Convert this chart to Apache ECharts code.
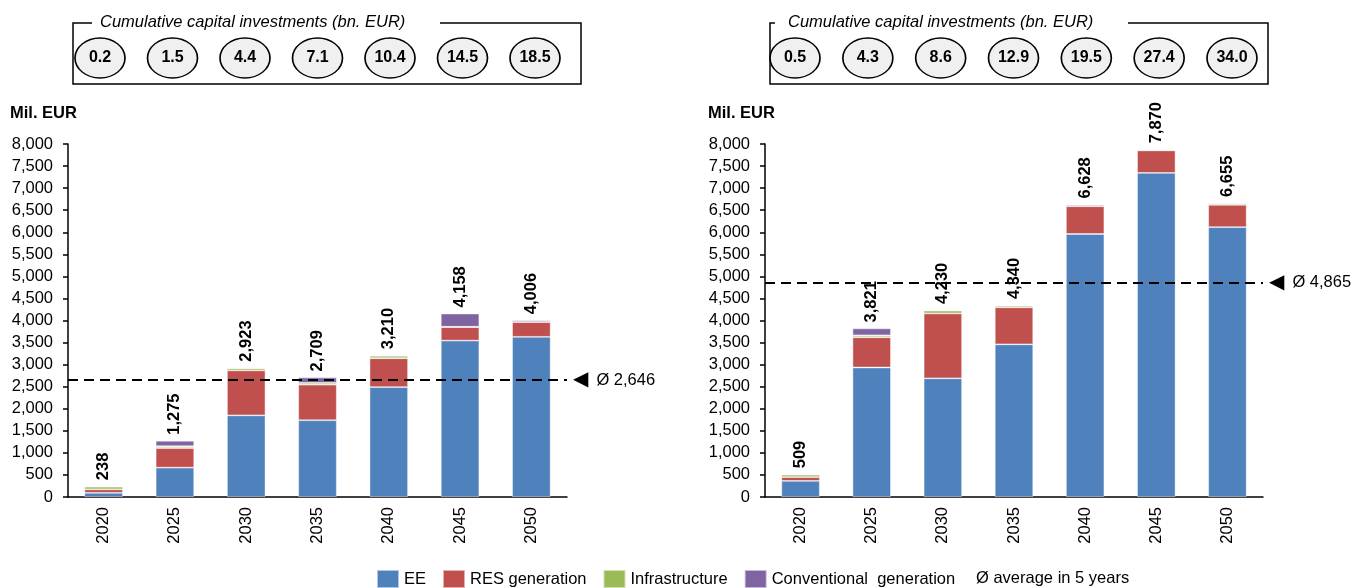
<!DOCTYPE html>
<html><head><meta charset="utf-8">
<script src="https://cdn.jsdelivr.net/npm/echarts@6/dist/echarts.min.js"></script>
<style>html,body{margin:0;padding:0;background:#fff}#c{width:1354px;height:588px}</style>
</head><body><div id="c"></div>
<script>
// ---- data ----
const years = ['2020','2025','2030','2035','2040','2045','2050'];
// left panel
const eeL   = [95, 665, 1850, 1740, 2490, 3545, 3630];
const resL  = [80, 445, 1020, 805, 655, 305, 335];
const infL  = [58, 40, 48, 40, 55, 8, 6];
const convL = [5, 125, 5, 124, 10, 300, 35];
const totL  = [238, 1275, 2923, 2709, 3210, 4158, 4006];
const avgL  = 2646;
const cumL  = [0.2, 1.5, 4.4, 7.1, 10.4, 14.5, 18.5];
// right panel
const eeR   = [365, 2935, 2690, 3460, 5960, 7345, 6115];
const resR  = [85, 685, 1470, 840, 630, 510, 505];
const infR  = [55, 45, 65, 40, 8, 15, 35];
const convR = [4, 156, 5, 0, 30, 0, 0];
const totR  = [509, 3821, 4230, 4340, 6628, 7870, 6655];
const avgR  = 4865;
const cumR  = [0.5, 4.3, 8.6, 12.9, 19.5, 27.4, 34.0];
const seriesNames = ['EE', 'RES generation', 'Infrastructure', 'Conventional  generation'];
const avgLegend = 'Ø average in 5 years';
const boxTitle = 'Cumulative capital investments (bn. EUR)';
const unitLabel = 'Mil. EUR';

// ---- styling ----
const FONT = '"Liberation Sans", Arial, sans-serif';
const FS = 16.5;
const COLORS = ['#4F81BD', '#C0504D', '#9BBB59', '#8064A2'];
const fmt = v => v.toLocaleString('en-US');

const chart = echarts.init(document.getElementById('c'));

function xMain(gi) {
  return {
    type: 'category', gridIndex: gi, data: years,
    axisLine: { lineStyle: { color: '#000', width: 1.5 } },
    axisTick: { length: 5, lineStyle: { color: '#000', width: 1.5 } },
    axisLabel: { rotate: 90, fontSize: FS, color: '#000', margin: 10, fontFamily: FONT }
  };
}
function yMain(gi) {
  return {
    type: 'value', gridIndex: gi, min: 0, max: 8000, interval: 500,
    splitLine: { show: false },
    axisLine: { show: true, lineStyle: { color: '#000', width: 1.5 } },
    axisTick: { show: true, length: 5, lineStyle: { color: '#000', width: 1.5 } },
    axisLabel: { formatter: v => fmt(v), fontSize: FS, color: '#000', margin: 15, fontFamily: FONT }
  };
}
function stackSeries(gi, arrays, totals, avg) {
  return arrays.map((arr, k) => {
    const s = {
      name: seriesNames[k], type: 'bar', stack: 'p' + gi,
      xAxisIndex: gi, yAxisIndex: gi, barWidth: '54%',
      data: arr,
      itemStyle: { color: COLORS[k], borderColor: 'rgba(255,255,255,0.55)', borderWidth: 0.8 },
      emphasis: { disabled: true }
    };
    if (k === arrays.length - 1) {
      s.label = {
        show: true, position: 'top', rotate: 90, align: 'left', verticalAlign: 'middle',
        distance: 6, fontSize: FS, fontWeight: 'bold', color: '#000', fontFamily: FONT,
        formatter: p => fmt(totals[p.dataIndex])
      };
    }
    if (k === 0) {
      s.markLine = {
        silent: true, symbol: 'none', animation: false,
        lineStyle: { color: '#000', type: [10, 6], width: 2 },
        label: {
          show: true, position: 'end', distance: 6,
          formatter: '{t|◀}{v|Ø ' + fmt(avg) + '}',
          rich: {
            t: { fontSize: 20, fontFamily: '"DejaVu Sans"', color: '#000' },
            v: { fontSize: FS, fontFamily: FONT, color: '#000', padding: [0, 0, 0, 8] }
          }
        },
        data: [{ yAxis: avg }]
      };
    }
    return s;
  });
}
function ellipseSeries(gi, cum) {
  return {
    name: 'cum' + gi, type: 'scatter', xAxisIndex: gi, yAxisIndex: gi,
    data: cum.map((v, i) => [i, 0]),
    symbol: 'circle', symbolSize: [50, 40],
    itemStyle: { color: '#f0f0f0', borderColor: '#000', borderWidth: 1.5, opacity: 1 },
    label: {
      show: true, position: 'inside', fontSize: 16, fontWeight: 'bold', color: '#000', fontFamily: FONT,
      formatter: p => cum[p.dataIndex].toFixed(1)
    },
    emphasis: { disabled: true }
  };
}
function boxGraphic(x0, x1, gapStart, gapEnd, titleX) {
  return [
    { type: 'polyline', silent: true,
      shape: { points: [[gapStart, 23], [x0, 23], [x0, 84], [x1, 84], [x1, 23], [gapEnd, 23]] },
      style: { stroke: '#000', lineWidth: 1.5, fill: null } },
    { type: 'text', silent: true, x: titleX, y: 22,
      style: { text: boxTitle, font: 'italic ' + FS + 'px ' + FONT, fill: '#000', verticalAlign: 'middle' } }
  ];
}

const option = {
  animation: false,
  backgroundColor: '#fff',
  grid: [
    { left: 68, width: 499, top: 144, bottom: 91 },
    { left: 765, width: 498, top: 144, bottom: 91 },
    { left: 63.75, width: 507.5, top: 37, height: 42 },
    { left: 758.6, width: 509.8, top: 37, height: 42 }
  ],
  xAxis: [
    xMain(0), xMain(1),
    { type: 'category', gridIndex: 2, data: years, show: false },
    { type: 'category', gridIndex: 3, data: years, show: false }
  ],
  yAxis: [
    yMain(0), yMain(1),
    { type: 'value', gridIndex: 2, min: -1, max: 1, show: false },
    { type: 'value', gridIndex: 3, min: -1, max: 1, show: false }
  ],
  legend: {
    data: seriesNames, left: 371, top: 564,
    itemWidth: 22, itemHeight: 18, itemGap: 16, icon: 'rect',
    textStyle: { fontSize: FS, color: '#000', fontFamily: FONT },
    selectedMode: false
  },
  series: [
    ...stackSeries(0, [eeL, resL, infL, convL], totL, avgL),
    ...stackSeries(1, [eeR, resR, infR, convR], totR, avgR),
    ellipseSeries(2, cumL),
    ellipseSeries(3, cumR)
  ],
  graphic: [
    ...boxGraphic(73, 581, 92, 440, 100),
    ...boxGraphic(770, 1268, 775, 1128, 788),
    { type: 'text', silent: true, x: 10, y: 113,
      style: { text: unitLabel, font: 'bold ' + FS + 'px ' + FONT, fill: '#000', verticalAlign: 'middle' } },
    { type: 'text', silent: true, x: 708, y: 113,
      style: { text: unitLabel, font: 'bold ' + FS + 'px ' + FONT, fill: '#000', verticalAlign: 'middle' } },
    { type: 'text', silent: true, x: 976, y: 578,
      style: { text: avgLegend, font: FS + 'px ' + FONT, fill: '#000', verticalAlign: 'middle' } }
  ]
};
chart.setOption(option);
</script>
</body></html>
